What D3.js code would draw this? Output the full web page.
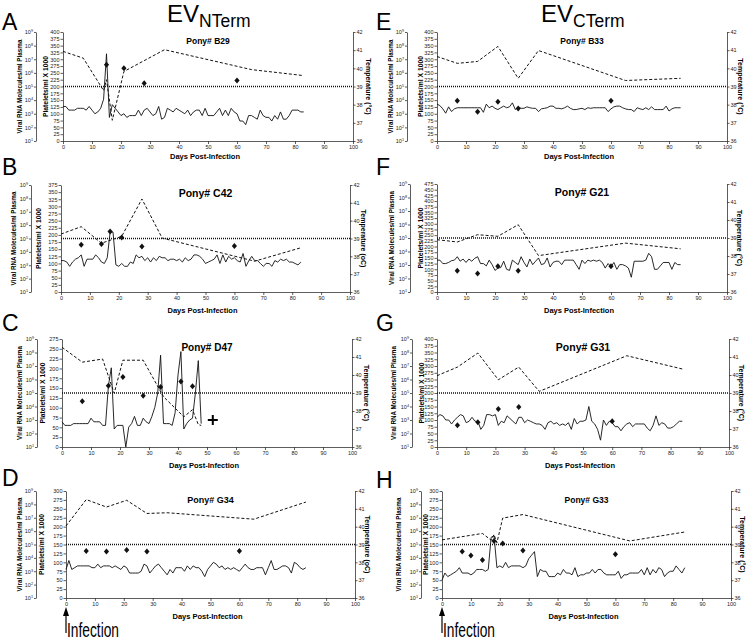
<!DOCTYPE html>
<html>
<head>
<meta charset="utf-8">
<script src="https://cdn.jsdelivr.net/npm/d3@7"></script>
<style>
  body { margin: 0; background: #fff; }
  svg { font-family: "Liberation Sans", Arial, sans-serif; }
</style>
</head>
<body>
<svg id="chart" width="748" height="640"></svg>
<script>
// daily temperature (index = day post-infection)
const tempA = [37.9,37.9,37.7,37.7,37.7,37.8,37.8,37.8,37.7,37.9,37.7,37.5,37.6,37.8,38.3,40.8,37.3,38.0,37.8,37.6,37.4,37.5,37.3,37.4,37.4,37.4,37.7,37.4,37.7,37.8,37.6,37.4,37.5,37.9,37.2,37.3,37.8,37.7,37.6,37.8,37.7,37.6,37.5,37.7,37.4,37.6,37.7,37.7,37.4,37.8,37.4,37.4,37.4,37.6,37.8,37.4,37.7,37.4,37.8,37.6,37.5,37.1,37.1,36.9,37.4,37.4,37.3,37.2,37.7,37.4,37.3,37.3,37.1,37.4,37.2,37.6,37.2,37.2,37.4,37.7,37.7,37.7,37.6,37.6];
const tempB = [37.76,37.76,37.68,37.44,37.68,37.84,37.92,38.08,37.44,37.84,37.84,37.84,38.08,37.92,37.68,37.6,37.92,39.36,39.36,37.52,37.44,37.6,37.44,37.44,37.68,37.6,38.08,37.92,38.0,37.76,37.92,37.68,37.92,37.76,38.0,37.92,37.92,37.76,37.84,37.84,37.76,37.84,37.68,37.92,37.76,37.84,38.08,38.08,38.0,37.84,37.6,37.68,37.76,37.84,38.08,37.6,38.08,37.68,38.0,37.84,37.92,37.76,37.68,38.16,37.44,37.76,38.0,37.76,37.76,37.6,37.44,37.6,37.6,37.44,37.76,37.68,37.84,37.76,37.84,37.68,37.68,37.6,37.52,37.68];
const tempC = [37.4,37.2,37.2,37.2,37.3,37.3,37.3,37.3,37.3,37.3,37.6,37.4,37.4,37.4,37.2,37.2,39.4,40.4,37.0,37.2,37.2,37.2,36.0,37.1,37.3,37.7,37.2,37.2,37.6,37.4,37.3,37.7,38.2,39.0,41.1,37.3,37.3,37.3,37.2,37.9,40.0,41.3,37.0,37.3,37.5,37.6,39.0,40.8,37.3];
const tempD = [37.6,38.1,37.6,37.7,37.8,37.8,37.8,37.8,37.8,37.7,37.7,37.9,37.7,37.8,37.8,37.8,37.7,37.8,37.7,37.6,37.8,37.7,37.4,37.4,37.4,37.4,37.5,37.9,37.8,37.4,37.6,37.8,37.9,37.7,37.5,37.3,37.6,37.4,37.7,37.7,37.7,37.5,37.8,37.6,37.8,37.7,37.7,37.5,37.2,37.6,37.8,38.0,37.9,37.7,37.8,37.6,37.7,37.6,37.7,37.6,37.5,37.7,37.9,37.7,37.6,37.6,37.7,37.7,37.7,37.3,37.7,38.1,37.6,37.6,37.7,37.8,37.8,37.7,37.4,38.0,37.9,37.7,37.6,37.7];
const tempE = [38.03,37.95,37.77,37.53,37.88,37.62,37.77,37.83,37.83,37.83,37.83,37.83,37.83,37.83,37.83,37.83,37.58,38.03,37.83,37.92,37.8,37.73,37.83,37.92,37.83,37.88,38.1,37.73,37.88,37.8,37.8,37.88,37.83,37.8,37.8,37.62,37.77,37.8,37.83,37.92,37.92,37.8,37.8,37.77,37.83,37.92,37.8,37.73,37.73,37.77,37.8,37.73,37.83,37.8,37.83,37.83,37.83,37.83,37.83,37.62,37.77,37.88,37.92,37.92,37.83,37.77,37.73,37.73,37.62,37.83,37.77,37.73,37.83,37.73,37.88,37.73,37.73,37.73,37.73,37.92,37.65,37.77,37.83,37.83,37.83];
const tempF = [37.77,37.77,37.58,37.58,37.64,37.74,37.77,37.96,37.71,37.83,37.64,37.83,37.71,37.87,37.96,37.58,37.58,37.45,37.77,37.52,37.2,37.33,37.36,37.71,37.26,37.2,37.77,37.64,37.52,37.96,37.64,37.39,37.83,37.52,37.71,37.89,37.52,37.58,37.89,37.39,37.64,37.71,37.71,37.52,37.77,37.77,37.77,37.77,37.52,37.26,37.77,37.58,37.77,37.71,37.77,37.71,37.77,37.64,37.33,37.58,37.39,37.64,37.26,37.52,37.52,37.45,37.33,36.82,37.71,37.71,37.71,37.71,37.77,38.15,37.96,37.26,37.26,37.45,37.64,37.64,37.64,37.26,37.64,37.52,37.52];
const tempG = [37.65,37.8,37.73,37.5,37.5,37.28,37.5,37.65,37.8,37.73,37.35,37.43,37.65,37.43,37.43,36.98,37.2,37.8,37.8,37.73,37.8,37.2,37.43,37.35,37.73,37.58,37.43,37.28,37.65,37.65,37.35,37.5,37.43,37.35,37.28,37.28,37.2,36.98,37.35,37.43,37.28,37.35,37.2,37.28,37.2,37.35,36.98,37.58,37.28,37.43,37.43,37.5,38.25,37.43,37.28,36.98,36.38,37.5,37.2,37.43,37.35,37.13,37.13,36.9,37.13,37.28,37.35,37.13,37.28,37.28,37.28,37.28,37.05,36.9,37.2,37.73,37.2,37.35,37.28,37.05,37.05,37.13,37.28,37.43,37.43];
const tempH = [37.0,37.4,37.2,37.3,37.4,37.5,37.7,37.4,37.4,37.4,37.3,37.4,37.6,37.6,37.6,37.5,37.6,39.4,39.5,37.7,37.8,37.7,38.0,37.7,37.8,37.8,37.8,37.8,37.7,37.8,38.2,38.4,38.6,37.2,37.6,37.5,37.5,37.2,37.2,37.2,37.4,37.3,37.6,37.4,37.4,37.3,37.7,37.2,37.3,37.3,37.4,37.4,37.6,37.4,37.6,37.6,37.4,37.3,37.3,37.3,37.3,37.5,37.1,37.3,37.3,37.4,37.4,37.4,37.4,37.6,37.3,37.7,37.3,37.6,37.4,37.7,37.6,37.2,37.4,37.5,37.5,37.8,37.6,37.4,37.7];

// platelet counts (x1000/ml), sampled days
const plateletDaysA = [0, 7, 14, 15, 17, 21, 35, 65, 83];
const plateletsA = [329, 304, 185, 225, 76, 255, 335, 262, 240];
const plateletDaysB = [0, 7, 14, 21, 28, 35, 67, 83];
const plateletsB = [203, 229, 171, 195, 326, 189, 108, 155];
const plateletDaysC = [0, 7, 14, 18, 21, 28, 35, 42, 45, 47, 48];
const plateletsC = [254, 216, 224, 137, 221, 221, 128, 77, 95, 57, 55];
const plateletDaysD = [0, 7, 14, 21, 28, 35, 65, 83];
const plateletsD = [202, 276, 255, 274, 237, 239, 221, 269];
const plateletDaysE = [0, 7, 14, 21, 28, 35, 65, 84];
const plateletsE = [310, 285, 292, 347, 230, 332, 222, 230];
const plateletDaysF = [0, 7, 14, 21, 28, 35, 65, 84];
const plateletsF = [230, 220, 252, 245, 296, 160, 215, 190];
const plateletDaysG = [0, 7, 14, 21, 28, 35, 65, 84];
const plateletsG = [264, 296, 348, 249, 296, 206, 338, 289];
const plateletDaysH = [0, 14, 17, 18, 19, 21, 28, 65, 84];
const plateletsH = [163, 181, 162, 178, 155, 224, 234, 160, 185];

// viral RNA molecules/ml plasma
const rnaDaysA = [15, 21, 28, 60];
const rnaA = [4.0e6, 2.2e6, 1.7e5, 2.7e5];
const rnaDaysB = [7, 14, 17, 21, 28, 60];
const rnaB = [3.4e4, 3.8e4, 3.3e5, 1.2e5, 2.5e4, 2.8e4];
const rnaDaysC = [7, 16, 21, 28, 34, 41, 45];
const rnaC = [2.4e4, 3.5e5, 1.55e6, 6.3e4, 2.75e5, 7.2e5, 3.1e5];
const rnaDaysD = [7, 14, 21, 28, 60];
const rnaD = [3.3e4, 3.0e4, 3.9e4, 3.0e4, 3.2e4];
const rnaDaysE = [7, 14, 21, 28, 60];
const rnaE = [8.9e3, 1.4e3, 7.6e3, 2.4e3, 8.9e3];
const rnaDaysF = [7, 14, 21, 28, 60];
const rnaF = [380, 230, 800, 380, 800];
const rnaDaysG = [7, 14, 21, 28, 60];
const rnaG = [400, 680, 6.5e3, 9.1e3, 800];
const rnaDaysH = [7, 10, 14, 18, 21, 28, 60];
const rnaH = [3.0e4, 1.5e4, 7.0e3, 1.8e5, 1.2e5, 3.5e4, 1.9e4];

// death of pony D47: [day, temperature]
const deathC = [52, 37.5];

const svg = d3.select("#chart");

const panels = [
  {letter: "A", pony: "Pony# B29", ponySize: 8.5, pMax: 400, temps: tempA, pDays: plateletDaysA, pVals: plateletsA, rDays: rnaDaysA, rVals: rnaA, tempLabel: "Temperature (°C)",
   left: 63, right: 353, top: 32, bottom: 141, logX: 36, rnaTitleX: 22, pltTitleX: 48, tempTitleX: 366, titleDy: 18},
  {letter: "B", pony: "Pony# C42", ponySize: 10.5, pMax: 375, temps: tempB, pDays: plateletDaysB, pVals: plateletsB, rDays: rnaDaysB, rVals: rnaB, tempLabel: "Temperature (oC)",
   left: 61, right: 350, top: 185, bottom: 292, logX: 31, rnaTitleX: 16, pltTitleX: 41, tempTitleX: 361, titleDy: 21},
  {letter: "C", pony: "Pony# D47", ponySize: 10, pMax: 275, temps: tempC, pDays: plateletDaysC, pVals: plateletsC, rDays: rnaDaysC, rVals: rnaC, tempLabel: "Temperature (°C)",
   left: 62, right: 352, top: 339, bottom: 447, logX: 37, rnaTitleX: 22, pltTitleX: 45, tempTitleX: 364, titleDy: 21, death: deathC},
  {letter: "D", pony: "Pony# G34", ponySize: 9, pMax: 300, temps: tempD, pDays: plateletDaysD, pVals: plateletsD, rDays: rnaDaysD, rVals: rnaD, tempLabel: "Temperature (oC)",
   left: 66, right: 355, top: 491, bottom: 598, logX: 36, rnaTitleX: 22, pltTitleX: 44, tempTitleX: 365, titleDy: 21, infection: true},
  {letter: "E", pony: "Pony# B33", ponySize: 8.5, pMax: 400, temps: tempE, pDays: plateletDaysE, pVals: plateletsE, rDays: rnaDaysE, rVals: rnaE, tempLabel: "Temperature (°C)",
   left: 437, right: 727, top: 32, bottom: 141, logX: 407, rnaTitleX: 393, pltTitleX: 423, tempTitleX: 738, titleDy: 18},
  {letter: "F", pony: "Pony# G21", ponySize: 10.5, pMax: 475, temps: tempF, pDays: plateletDaysF, pVals: plateletsF, rDays: rnaDaysF, rVals: rnaF, tempLabel: "Temperature (°C)",
   left: 437, right: 727, top: 184, bottom: 292, logX: 410, rnaTitleX: 394, pltTitleX: 423, tempTitleX: 737, titleDy: 21},
  {letter: "G", pony: "Pony# G31", ponySize: 10.5, pMax: 400, temps: tempG, pDays: plateletDaysG, pVals: plateletsG, rDays: rnaDaysG, rVals: rnaG, tempLabel: "Temperature (°C)",
   left: 437, right: 729, top: 339, bottom: 447, logX: 412, rnaTitleX: 396, pltTitleX: 424, tempTitleX: 739, titleDy: 21},
  {letter: "H", pony: "Pony# G33", ponySize: 8.5, pMax: 300, temps: tempH, pDays: plateletDaysH, pVals: plateletsH, rDays: rnaDaysH, rVals: rnaH, tempLabel: "Temperature (°C)",
   left: 442, right: 731, top: 491, bottom: 598, logX: 421, rnaTitleX: 401, pltTitleX: 428, tempTitleX: 740, titleDy: 21, infection: true}
];

const letterPos = {A: [2, 30], B: [2, 175], C: [2, 331], D: [2, 486], E: [376, 30], F: [376, 175], G: [376, 331], H: [376, 488]};

function styleAxis(g) {
  g.attr("font-family", null).attr("font-size", null);
  g.selectAll("text").attr("font-size", 5.5).attr("fill", "#222");
  g.selectAll("line, path").attr("stroke", "#333").attr("stroke-width", 0.8);
}

function drawPanel(p) {
  const g = svg.append("g");
  const x = d3.scaleLinear().domain([0, 100]).range([p.left, p.right]);
  const yP = d3.scaleLinear().domain([0, p.pMax]).range([p.bottom, p.top]);
  const yT = d3.scaleLinear().domain([36, 42]).range([p.bottom, p.top]);
  const yR = d3.scaleLog().domain([1e1, 1e9]).range([p.bottom, p.top]);
  const midY = (p.top + p.bottom) / 2;

  // x axis
  const gx = g.append("g").attr("transform", `translate(0,${p.bottom})`)
    .call(d3.axisBottom(x).tickValues(d3.range(0, 101, 10)).tickSize(3).tickSizeOuter(0).tickPadding(1));
  styleAxis(gx);

  // platelets axis (left)
  const gp = g.append("g").attr("transform", `translate(${p.left},0)`)
    .call(d3.axisLeft(yP).tickValues(d3.range(0, p.pMax + 1, 25)).tickSize(2.5).tickSizeOuter(0).tickPadding(1));
  styleAxis(gp);

  // temperature axis (right)
  const gt = g.append("g").attr("transform", `translate(${p.right},0)`)
    .call(d3.axisRight(yT).tickValues(d3.range(36, 43)).tickFormat(d3.format("d"))
      .tickSize(2.5).tickSizeOuter(0).tickPadding(1));
  styleAxis(gt);

  // viral RNA log axis (offset left)
  const gr = g.append("g").attr("transform", `translate(${p.logX},0)`)
    .call(d3.axisLeft(yR).tickValues(d3.range(1, 10).map(e => Math.pow(10, e))).tickSize(2).tickSizeOuter(0).tickPadding(1));
  styleAxis(gr);
  gr.selectAll(".tick text").each(function(d) {
    const t = d3.select(this).text(null);
    t.append("tspan").text("10");
    t.append("tspan").attr("dy", -2).attr("font-size", 3.8).text(Math.round(Math.log10(d)));
  });

  // axis titles
  g.append("text").attr("transform", `translate(${p.rnaTitleX},${midY}) rotate(-90)`)
    .attr("text-anchor", "middle").attr("font-size", 6.3).attr("font-weight", "bold")
    .text("Viral RNA Molecules/ml Plasma");
  g.append("text").attr("transform", `translate(${p.pltTitleX},${midY}) rotate(-90)`)
    .attr("text-anchor", "middle").attr("font-size", 6.8).attr("font-weight", "bold")
    .text("Platelets/ml X 1000");
  g.append("text").attr("transform", `translate(${p.tempTitleX},${midY}) rotate(90)`)
    .attr("text-anchor", "middle").attr("font-size", 7).attr("font-weight", "bold")
    .text(p.tempLabel);
  g.append("text").attr("x", (p.left + p.right) / 2 - 3).attr("y", p.bottom + p.titleDy)
    .attr("text-anchor", "middle").attr("font-size", 7.5).attr("font-weight", "bold")
    .text("Days Post-Infection");
  g.append("text").attr("x", x(50)).attr("y", p.top + 12)
    .attr("text-anchor", "middle").attr("font-size", p.ponySize).attr("font-weight", "bold")
    .text(p.pony);

  // fever threshold
  g.append("line").attr("x1", p.left).attr("x2", p.right).attr("y1", yT(39)).attr("y2", yT(39))
    .attr("stroke", "#111").attr("stroke-width", 1.6).attr("stroke-dasharray", "1,1");

  // temperature (solid)
  g.append("path").datum(p.temps)
    .attr("fill", "none").attr("stroke", "#111").attr("stroke-width", 0.9)
    .attr("d", d3.line().x((d, i) => x(i)).y(d => yT(d)));

  // platelets (dashed)
  g.append("path").datum(p.pDays.map((d, i) => [d, p.pVals[i]]))
    .attr("fill", "none").attr("stroke", "#111").attr("stroke-width", 1).attr("stroke-dasharray", "3,2")
    .attr("d", d3.line().x(d => x(d[0])).y(d => yP(d[1])));

  // viral RNA (diamonds)
  g.append("g").selectAll("path").data(p.rDays.map((d, i) => [d, p.rVals[i]])).join("path")
    .attr("transform", d => `translate(${x(d[0])},${yR(d[1])})`)
    .attr("d", "M0,-3L2.6,0L0,3L-2.6,0Z").attr("fill", "#111");

  if (p.death) {
    const cx = x(p.death[0]), cy = yT(p.death[1]);
    g.append("path").attr("d", `M${cx - 5},${cy}H${cx + 5}M${cx},${cy - 5}V${cy + 5}`)
      .attr("stroke", "#000").attr("stroke-width", 2);
  }

  if (p.infection) {
    const ax = x(0);
    g.append("line").attr("x1", ax).attr("x2", ax).attr("y1", 614).attr("y2", 633)
      .attr("stroke", "#000").attr("stroke-width", 1.2);
    g.append("path").attr("d", `M${ax},607L${ax + 3},616L${ax - 3},616Z`).attr("fill", "#000");
    g.append("text").attr("x", ax + 1).attr("y", 637).attr("font-size", 20)
      .attr("textLength", 52).attr("lengthAdjust", "spacingAndGlyphs").text("Infection");
  }

  const lp = letterPos[p.letter];
  svg.append("text").attr("x", lp[0]).attr("y", lp[1]).attr("font-size", 23).text(p.letter);
}

panels.forEach(drawPanel);

// column headers
[["NTerm", 167], ["CTerm", 541]].forEach(([sub, hx]) => {
  const t = svg.append("text").attr("x", hx).attr("y", 22).attr("font-size", 24);
  t.append("tspan").text("EV");
  t.append("tspan").attr("dy", 5).attr("font-size", 17.5).text(sub);
});
</script>
</body>
</html>
